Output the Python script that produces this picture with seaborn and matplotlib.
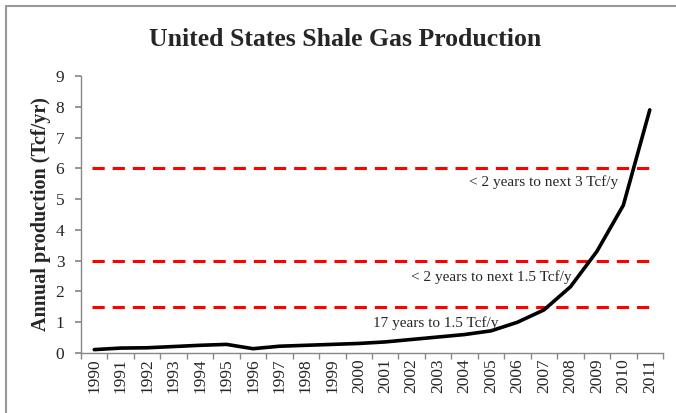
import numpy as np
import pandas as pd
import matplotlib
matplotlib.use("Agg")
import matplotlib.pyplot as plt
from matplotlib.lines import Line2D
import seaborn as sns

years = [str(y) for y in range(1990, 2012)]
production = [0.11, 0.16, 0.17, 0.21, 0.25, 0.28, 0.14, 0.22, 0.25, 0.28, 0.31,
              0.36, 0.44, 0.52, 0.60, 0.72, 1.00, 1.40, 2.15, 3.30, 4.80, 7.90]
ref_levels = [1.5, 3.0, 6.0]
ref_texts = ["17 years to 1.5 Tcf/y", "< 2 years to next 1.5 Tcf/y", "< 2 years to next 3 Tcf/y"]
title = "United States Shale Gas Production"
ylabel = "Annual production (Tcf/yr)"

sns.set_theme(style="white")
plt.rcParams['font.family'] = ['Liberation Serif', 'DejaVu Serif']

df = pd.DataFrame({"idx": np.arange(len(years)), "prod": production})

fig = plt.figure(figsize=(6.76, 4.13), dpi=100)
ax = fig.add_axes([81/676, 1-353/413, (663-81)/676, (353-76)/413])

for lvl in ref_levels:
    ax.hlines(lvl, -0.1, 21.05, colors="#ff0000", linestyles=(0, (4, 2.6)), linewidth=2.2, zorder=1)

sns.lineplot(data=df, x="idx", y="prod", color="black", linewidth=2.6, ax=ax, zorder=3)

ax.set_xlim(-0.5, len(years) - 0.5)
ax.set_ylim(0, 9)
ax.set_yticks(range(0, 10))
ax.set_yticklabels([str(i) for i in range(0, 10)], fontsize=12.5)
ax.set_xticks(np.arange(len(years)))
ax.set_xticklabels(years, rotation=90, fontsize=12.5)
ax.set_xticks(np.arange(-0.5, len(years)), minor=True)
ax.tick_params(axis="x", which="major", length=0, pad=4)
ax.tick_params(axis="x", which="minor", length=4, color="#888888", direction="out", bottom=True)
ax.tick_params(axis="y", length=4, color="#888888", direction="out", left=True, pad=8)
ax.set_xlabel("")
ax.set_ylabel(ylabel, fontsize=14.5, fontweight="bold", labelpad=3)

for s in ["top", "right"]:
    ax.spines[s].set_visible(False)
for s in ["left", "bottom"]:
    ax.spines[s].set_color("#888888")
    ax.spines[s].set_linewidth(1.0)

ax.text(12.9, 0.97, ref_texts[0], ha="center", va="center", fontsize=11)
ax.text(15.0, 2.47, ref_texts[1], ha="center", va="center", fontsize=11)
ax.text(17.0, 5.55, ref_texts[2], ha="center", va="center", fontsize=11)

fig.text(345/676, 1-40/413, title, ha="center", va="center", fontsize=18.5, fontweight="bold")

fig.add_artist(Line2D([5.5/676, 5.5/676], [0, 1-6/413], transform=fig.transFigure, color="#999999", linewidth=1.5))
fig.add_artist(Line2D([5.5/676, 1], [1-6/413, 1-6/413], transform=fig.transFigure, color="#999999", linewidth=1.5))

fig.savefig("out.png", dpi=100)
